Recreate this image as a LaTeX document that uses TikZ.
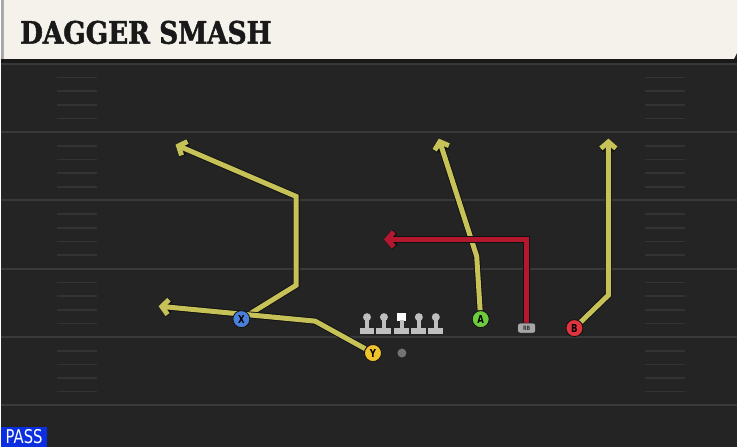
\documentclass[tikz,border=0pt]{standalone}
\usepackage{fontspec}
\usetikzlibrary{arrows.meta}
\newfontfamily\titlefont[FakeStretch=0.85,FakeBold=1.5]{DejaVu Serif}
\newfontfamily\tagfont[FakeStretch=0.78]{DejaVu Sans}
\definecolor{fieldgray}{HTML}{242424}
\definecolor{yardline}{HTML}{393939}
\definecolor{hashgray}{HTML}{333333}
\definecolor{headercream}{HTML}{F5F2EC}
\definecolor{routeyellow}{HTML}{C6C257}
\definecolor{routered}{HTML}{B3182F}
\definecolor{routeedge}{HTML}{111111}
\definecolor{xblue}{HTML}{4A80DA}
\definecolor{yyellow}{HTML}{F0C22C}
\definecolor{agreen}{HTML}{6DCB3E}
\definecolor{bred}{HTML}{E0343E}
\definecolor{passblue}{HTML}{0A2EE0}
\pgfdeclarelayer{field}
\pgfdeclarelayer{routes}
\pgfsetlayers{field,routes,main}
\begin{document}
\begin{tikzpicture}[x=1pt,y=-1pt,
  route/.style={line width=5pt,draw=#1,line join=miter,
    preaction={draw=routeedge,line width=6.8pt},
    -{Straight Barb[length=6.5pt,width=15pt]}},
  player/.style={circle,draw=routeedge,line width=0.8pt,fill=#1,minimum size=17pt,
    inner sep=0pt,font=\tagfont\bfseries\fontsize{11}{11}\selectfont,text=black}]
  \tikzstyle{every node}=[font=\small]
  % field and header
  \begin{pgfonlayer}{field}
  \fill[fieldgray] (0,0) rectangle (738,448);
  \fill[black!90] (0,58) rectangle (738,64);
  \fill[black!35] (0,0) rectangle (3,59);
  \fill[headercream] (3,0) -- (738,0) -- (738,53) -- (735,59) -- (3,59) -- cycle;
  \foreach \yl in {64,132.5,201,269.5,338,406.5}
    \draw[yardline,line width=2pt] (0,\yl) -- (738,\yl);
  \foreach \yl in {64,132.5,201,269.5,338}
    \foreach \k in {1,...,4}{
      \draw[hashgray,line width=1.5pt] (56,\yl+\k*13.7) -- (96,\yl+\k*13.7);
      \draw[hashgray,line width=1.5pt] (646,\yl+\k*13.7) -- (686,\yl+\k*13.7);
    }
  \end{pgfonlayer}
  \node[anchor=west,inner sep=0pt,text=black!90] (title) at (19,32.5)
    {\titlefont\bfseries\fontsize{31}{31}\selectfont DAGGER SMASH};
  % offensive line
  \foreach \lx in {367,384,419,436}{
    \fill[black!25] (\lx-2.2,318) rectangle (\lx+2.2,330);
    \fill[black!25] (\lx,318) circle (4);
    \fill[black!25] (\lx-7.5,328.5) rectangle (\lx+7.5,335);
  }
  \fill[white] (397.5,313.5) rectangle (406.5,322);
  \fill[black!25] (399.8,321) rectangle (404.2,330);
  \fill[black!25] (394.5,328.5) rectangle (409.5,335);
  \fill[black!55] (402,354) circle (4.5);
  % players
  \node[player=xblue] (X) at (241,320) {X};
  \node[player=yyellow] (Y) at (373,354) {Y};
  \node[player=agreen] (A) at (481,320) {A};
  \node[player=bred] (B) at (575,329) {B};
  \node[draw=routeedge,fill=black!35,rounded corners=2.5pt,minimum width=18pt,minimum height=10pt,
    inner sep=0pt,font=\tagfont\bfseries\fontsize{6}{6}\selectfont,text=black!80] (RB) at (527,329) {RB};
  % routes
  \coordinate (y1) at (315,322); \coordinate (y2) at (158,307);
  \coordinate (x1) at (296,286); \coordinate (x2) at (296,197); \coordinate (x3) at (175,145);
  \coordinate (a1) at (477,257); \coordinate (a2) at (439,139);
  \coordinate (r1) at (527,240); \coordinate (r2) at (384,240);
  \coordinate (b1) at (609,296); \coordinate (b2) at (609,139);
  \begin{pgfonlayer}{routes}
    \draw[route=routeyellow] (X) -- (x1) -- (x2) -- (x3);
    \draw[route=routeyellow] (Y) -- (y1) -- (y2);
    \draw[route=routeyellow] (A) -- (a1) -- (a2);
    \draw[route=routered] (RB) -- (r1) -- (r2);
    \draw[route=routeyellow] (B) -- (b1) -- (b2);
  \end{pgfonlayer}
  % play type tag
  \node[fill=passblue,anchor=south west,minimum width=46pt,minimum height=20pt,inner sep=0pt,
    text=white,font=\tagfont\fontsize{19}{19}\selectfont] (pass) at (0,448) {PASS};
\end{tikzpicture}
\end{document}
